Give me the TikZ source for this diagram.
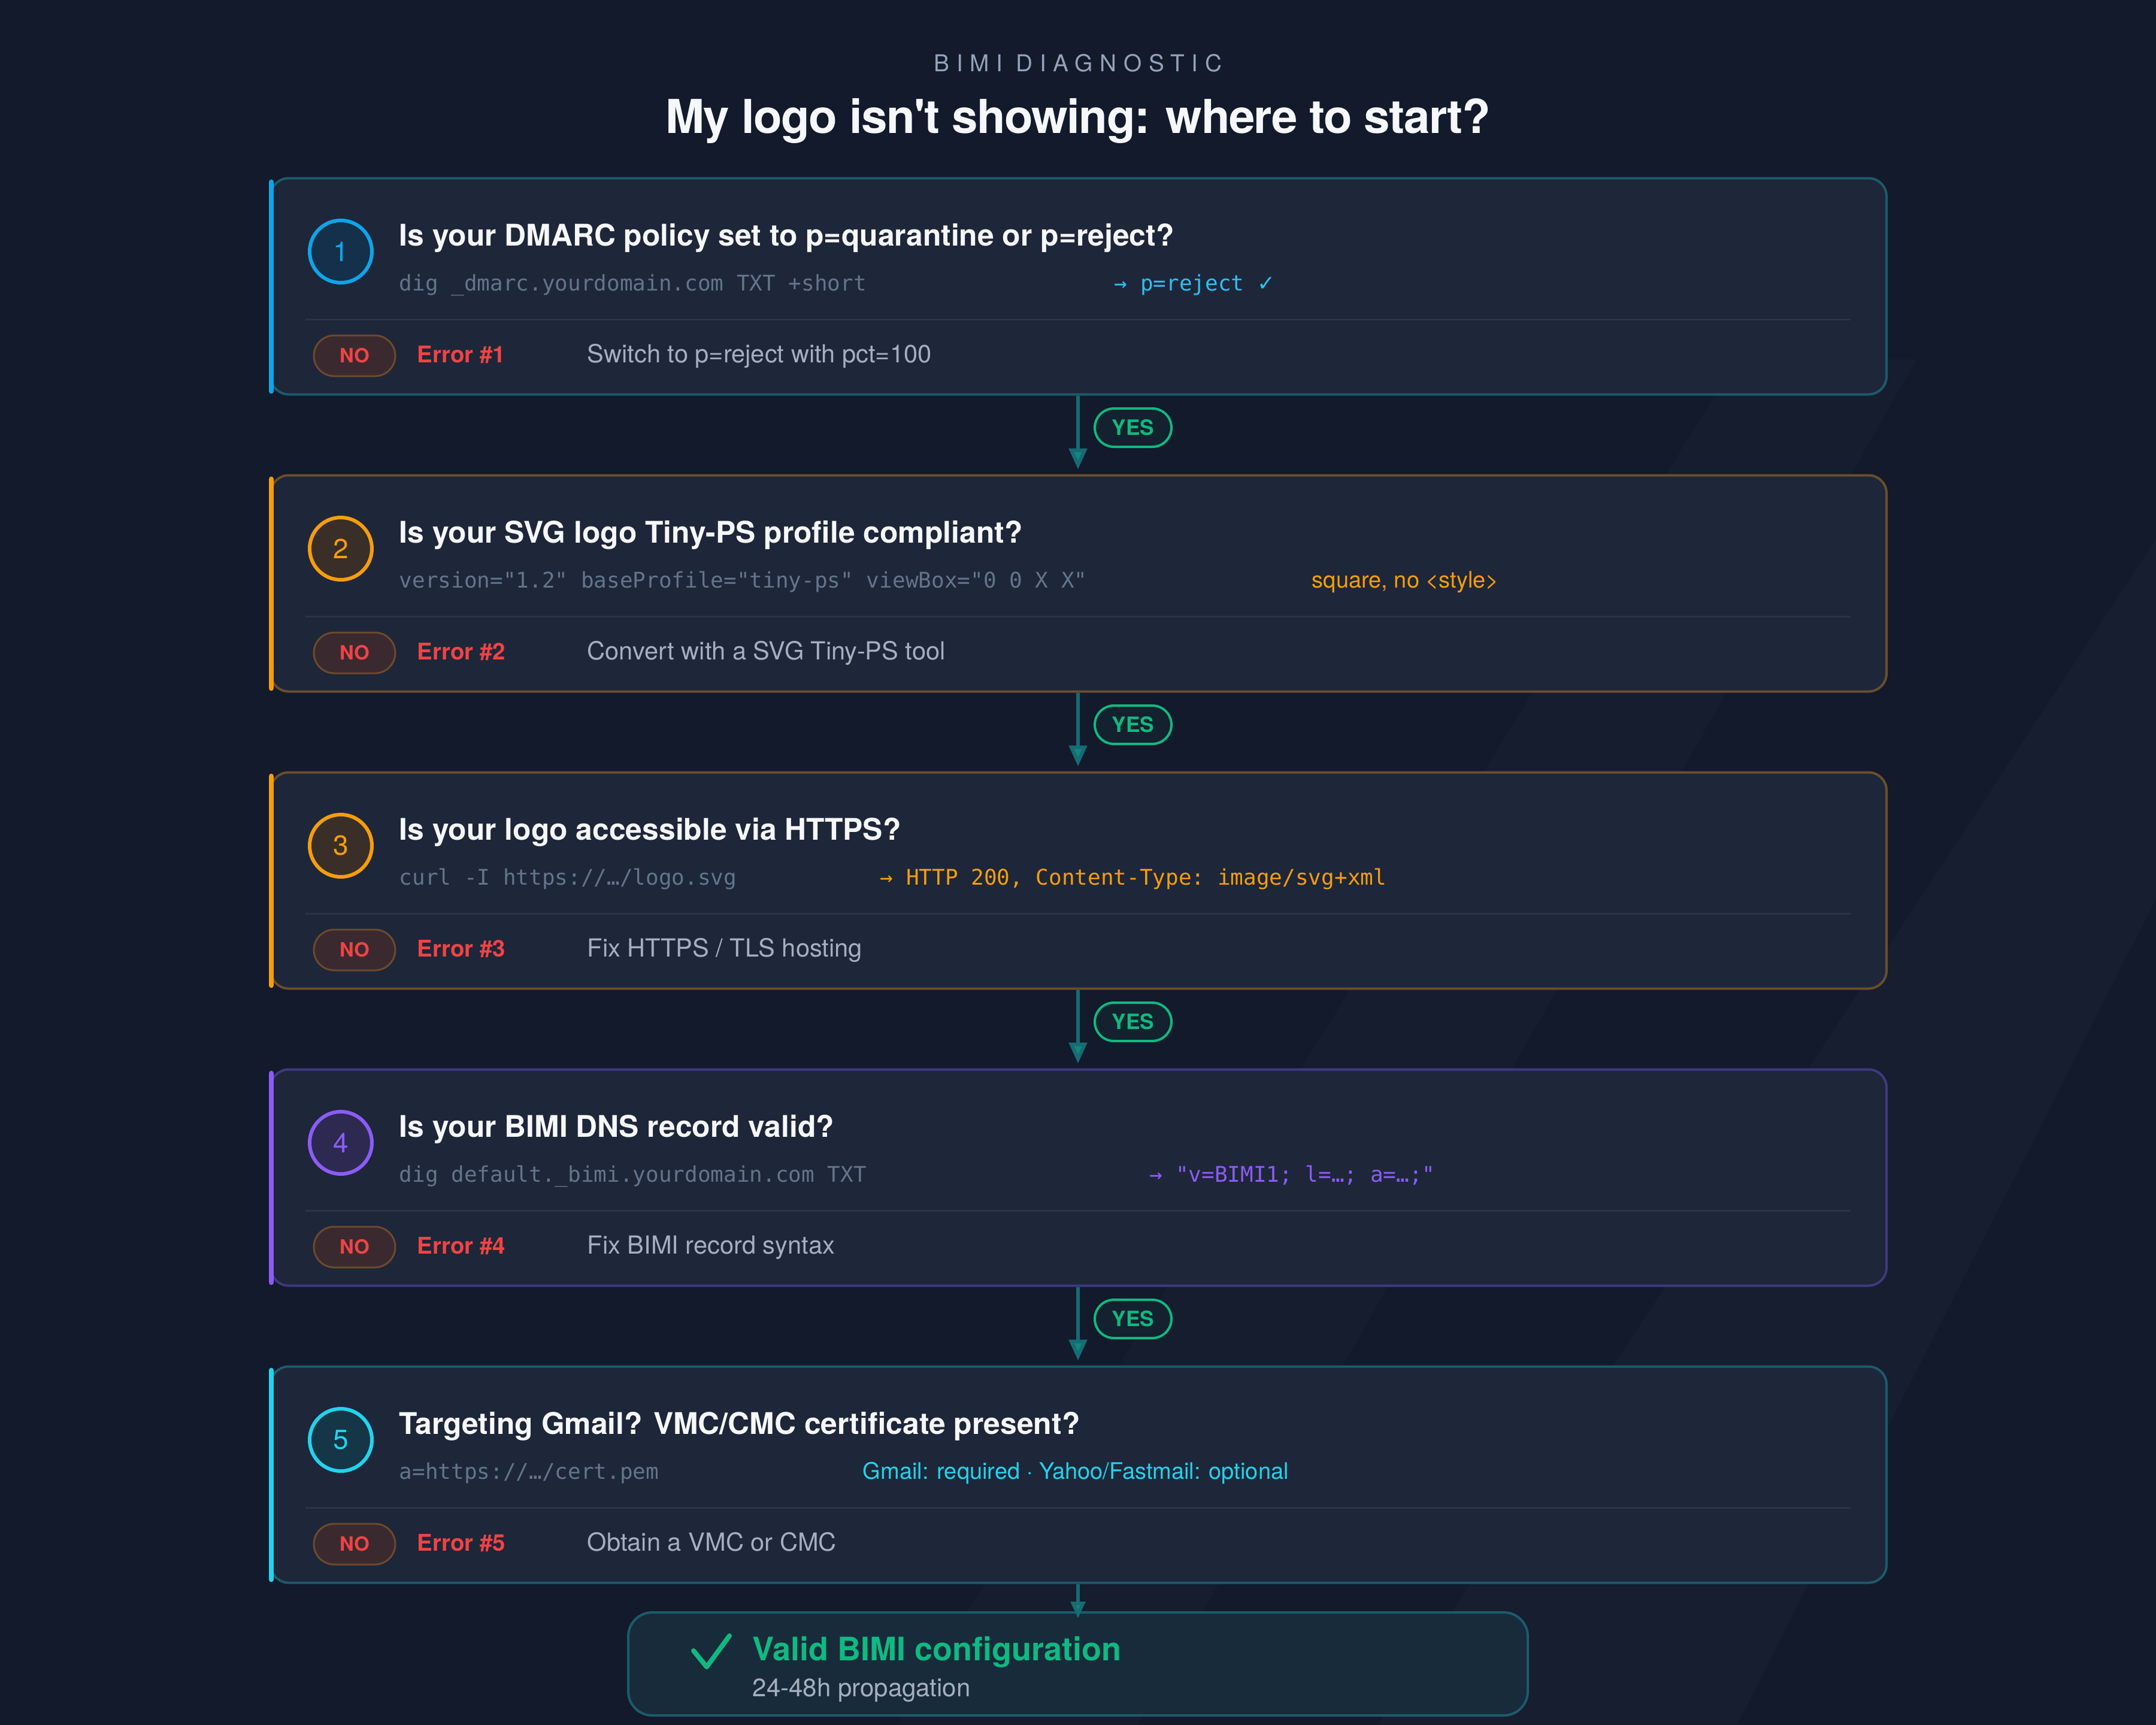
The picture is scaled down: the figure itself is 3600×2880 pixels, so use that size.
\documentclass[tikz,border=0pt]{standalone}
\usepackage{fontspec}
\setmainfont{TeX Gyre Heros}[Ligatures=TeXOff]
\setmonofont{DejaVu Sans Mono}
\newfontfamily\symf{DejaVu Sans}
\newfontfamily\trackf[LetterSpace=30]{TeX Gyre Heros}
\newfontfamily\titlef[LetterSpace=-2,Ligatures=TeXOff]{TeX Gyre Heros}
\usetikzlibrary{arrows.meta}
\definecolor{bg}{HTML}{121A2B}
\definecolor{cardbg}{HTML}{1E2639}
\definecolor{bteal}{HTML}{1C5B6B}
\definecolor{bbrown}{HTML}{6A4E2B}
\definecolor{bpurple}{HTML}{3E3A7E}
\definecolor{accA}{HTML}{0EA5E9}
\definecolor{accB}{HTML}{F59E0B}
\definecolor{accD}{HTML}{8B5CF6}
\definecolor{accE}{HTML}{22D3EE}
\definecolor{cfA}{HTML}{14304A}
\definecolor{cfB}{HTML}{3A2E28}
\definecolor{cfD}{HTML}{2D2950}
\definecolor{cfE}{HTML}{143646}
\definecolor{divc}{HTML}{2B3447}
\definecolor{codegray}{HTML}{64748B}
\definecolor{fixgray}{HTML}{A5AFBE}
\definecolor{errred}{HTML}{EF4444}
\definecolor{nofill}{HTML}{3A2A30}
\definecolor{noborder}{HTML}{6C4A2C}
\definecolor{connc}{HTML}{176B74}
\definecolor{headc}{HTML}{12887A}
\definecolor{yesgreen}{HTML}{10B981}
\definecolor{yesfill}{HTML}{13222E}
\definecolor{titlec}{HTML}{F5F7FA}
\definecolor{subc}{HTML}{94A3B8}
\definecolor{finfill}{HTML}{182B3B}
\definecolor{resA}{HTML}{2CC0F0}
\newcommand\cardframe[6]{%
  \node[card, draw=#5] (#1) at (1801,#3+180) {};
  \draw[accentbar, #4] (453,#3+6) -- (453,#3+355);
  \node[numcirc, draw=#4, fill=#6, text=#4] (#1n) at (569,#3+122) {#2};
  \draw[divider] (510,#3+235) -- (3090,#3+235);
  \node[nobadge] (#1no) at (592,#3+296) {NO};
  \node[errtxt] (#1err) at (696,#3+307) {Error \##2};
}
\begin{document}
\begin{tikzpicture}[x=0.25pt,y=-0.25pt,
  card/.style={rectangle, rounded corners=7.5pt, fill=cardbg, line width=1pt, minimum width=674.5pt, minimum height=90.25pt, inner sep=0pt},
  accentbar/.style={line width=2.2pt, line cap=round},
  numcirc/.style={circle, line width=1.5pt, minimum size=26pt, inner sep=0pt, font=\fontsize{11.5}{13}\selectfont},
  divider/.style={draw=divc, line width=0.75pt},
  nobadge/.style={rectangle, rounded corners=8.5pt, minimum width=34pt, minimum height=17pt, inner sep=0pt, fill=nofill, draw=noborder, line width=0.75pt, text=errred, font=\fontsize{8.2}{9}\selectfont\bfseries},
  errtxt/.style={anchor=base west, inner sep=0pt, text=errred, font=\fontsize{9.6}{11}\selectfont\bfseries},
  qtitle/.style={anchor=base west, inner sep=0pt, text=titlec, font=\fontsize{12.45}{14}\selectfont\bfseries},
  codetxt/.style={anchor=base west, inner sep=0pt, text=codegray, font=\ttfamily\fontsize{9}{11}\selectfont},
  restxt/.style={anchor=base west, inner sep=0pt, font=\ttfamily\fontsize{9}{11}\selectfont},
  fixtxt/.style={anchor=base west, inner sep=0pt, text=fixgray, font=\fontsize{10.4}{12}\selectfont},
  notetxt/.style={anchor=base west, inner sep=0pt, font=\fontsize{9.5}{10}\selectfont},
  conn/.style={draw=connc, line width=1.5pt, -{Triangle[width=7.5pt,length=8.75pt,fill=headc]}, shorten >=2pt},
  yesbadge/.style={rectangle, rounded corners=8pt, minimum width=32pt, minimum height=16pt, inner sep=0pt, fill=yesfill, draw=yesgreen, line width=1pt, text=yesgreen, font=\fontsize{8.8}{9}\selectfont\bfseries}
]
\useasboundingbox (0,0) rectangle (3600,2880);
\fill[bg] (0,0) rectangle (3600,2880);
\fill[white, opacity=0.02] (2300,2880) -- (3600,900) -- (3600,1500) -- (2900,2880) -- cycle;
\fill[white, opacity=0.015] (1500,2880) -- (2900,600) -- (3200,600) -- (1900,2880) -- cycle;

% header
\node[inner sep=0pt, anchor=base, text=subc, font=\trackf\fontsize{9.7}{11}\selectfont] (kicker) at (1800,120) {BIMI DIAGNOSTIC};
\node[inner sep=0pt, anchor=base, text=titlec, font=\titlef\fontsize{19.5}{24}\selectfont\bfseries] (title) at (1800,222) {My logo isn't showing: where to start?};

% card 1
\cardframe{c1}{1}{298}{accA}{bteal}{cfA}
\node[qtitle] (c1t) at (666,410) {Is your DMARC policy set to p=quarantine or p=reject?};
\node[codetxt] (c1c) at (666,485) {dig \_dmarc.yourdomain.com TXT +short};
\node[restxt, text=resA] (c1r) at (1860,485) {→ p=reject {\symf ✓}};
\node[fixtxt] (c1f) at (980,605) {Switch to p=reject with pct=100};

% card 2
\cardframe{c2}{2}{794}{accB}{bbrown}{cfB}
\node[qtitle] (c2t) at (666,906) {Is your SVG logo Tiny-PS profile compliant?};
\node[codetxt] (c2c) at (666,981) {version="1.2" baseProfile="tiny-ps" viewBox="0 0 X X"};
\node[notetxt, text=accB] (c2r) at (2190,981) {square, no <style>};
\node[fixtxt] (c2f) at (980,1101) {Convert with a SVG Tiny-PS tool};

% card 3
\cardframe{c3}{3}{1290}{accB}{bbrown}{cfB}
\node[qtitle] (c3t) at (666,1402) {Is your logo accessible via HTTPS?};
\node[codetxt] (c3c) at (666,1477) {curl -I https://…/logo.svg};
\node[restxt, text=accB] (c3r) at (1469,1477) {→ HTTP 200, Content-Type: image/svg+xml};
\node[fixtxt] (c3f) at (980,1597) {Fix HTTPS / TLS hosting};

% card 4
\cardframe{c4}{4}{1786}{accD}{bpurple}{cfD}
\node[qtitle] (c4t) at (666,1898) {Is your BIMI DNS record valid?};
\node[codetxt] (c4c) at (666,1973) {dig default.\_bimi.yourdomain.com TXT};
\node[restxt, text=accD] (c4r) at (1919,1973) {→ "v=BIMI1; l=…; a=…;"};
\node[fixtxt] (c4f) at (980,2093) {Fix BIMI record syntax};

% card 5
\cardframe{c5}{5}{2282}{accE}{bteal}{cfE}
\node[qtitle] (c5t) at (666,2394) {Targeting Gmail? VMC/CMC certificate present?};
\node[codetxt] (c5c) at (666,2469) {a=https://…/cert.pem};
\node[notetxt, text=accE] (c5r) at (1440,2469) {Gmail: required · Yahoo/Fastmail: optional};
\node[fixtxt] (c5f) at (980,2589) {Obtain a VMC or CMC};

% final
\node[rectangle, rounded corners=10pt, fill=finfill, draw=bteal, line width=1pt, minimum width=375.5pt, minimum height=43pt, inner sep=0pt] (fin) at (1800,2778) {};
\draw[yesgreen, line width=2pt, line cap=round, line join=round] (1158,2756) -- (1180,2783) -- (1218,2731);
\node[inner sep=0pt, anchor=base west, text=yesgreen, font=\fontsize{13.5}{16}\selectfont\bfseries] (fint) at (1256,2772) {Valid BIMI configuration};
\node[inner sep=0pt, anchor=base west, text=fixgray, font=\fontsize{10.5}{12}\selectfont] (fins) at (1256,2832) {24-48h propagation};

% connectors
\draw[conn] (c1.south -| 1800,0) -- (c2.north -| 1800,0);
\draw[conn] (c2.south -| 1800,0) -- (c3.north -| 1800,0);
\draw[conn] (c3.south -| 1800,0) -- (c4.north -| 1800,0);
\draw[conn] (c4.south -| 1800,0) -- (c5.north -| 1800,0);
\draw[conn, shorten >=-3pt, -{Triangle[width=6pt,length=7pt,fill=headc]}] (c5.south -| 1800,0) -- (fin.north);
\node[yesbadge] (y1) at (1892,714) {YES};
\node[yesbadge] (y2) at (1892,1210) {YES};
\node[yesbadge] (y3) at (1892,1706) {YES};
\node[yesbadge] (y4) at (1892,2202) {YES};
\end{tikzpicture}
\end{document}
